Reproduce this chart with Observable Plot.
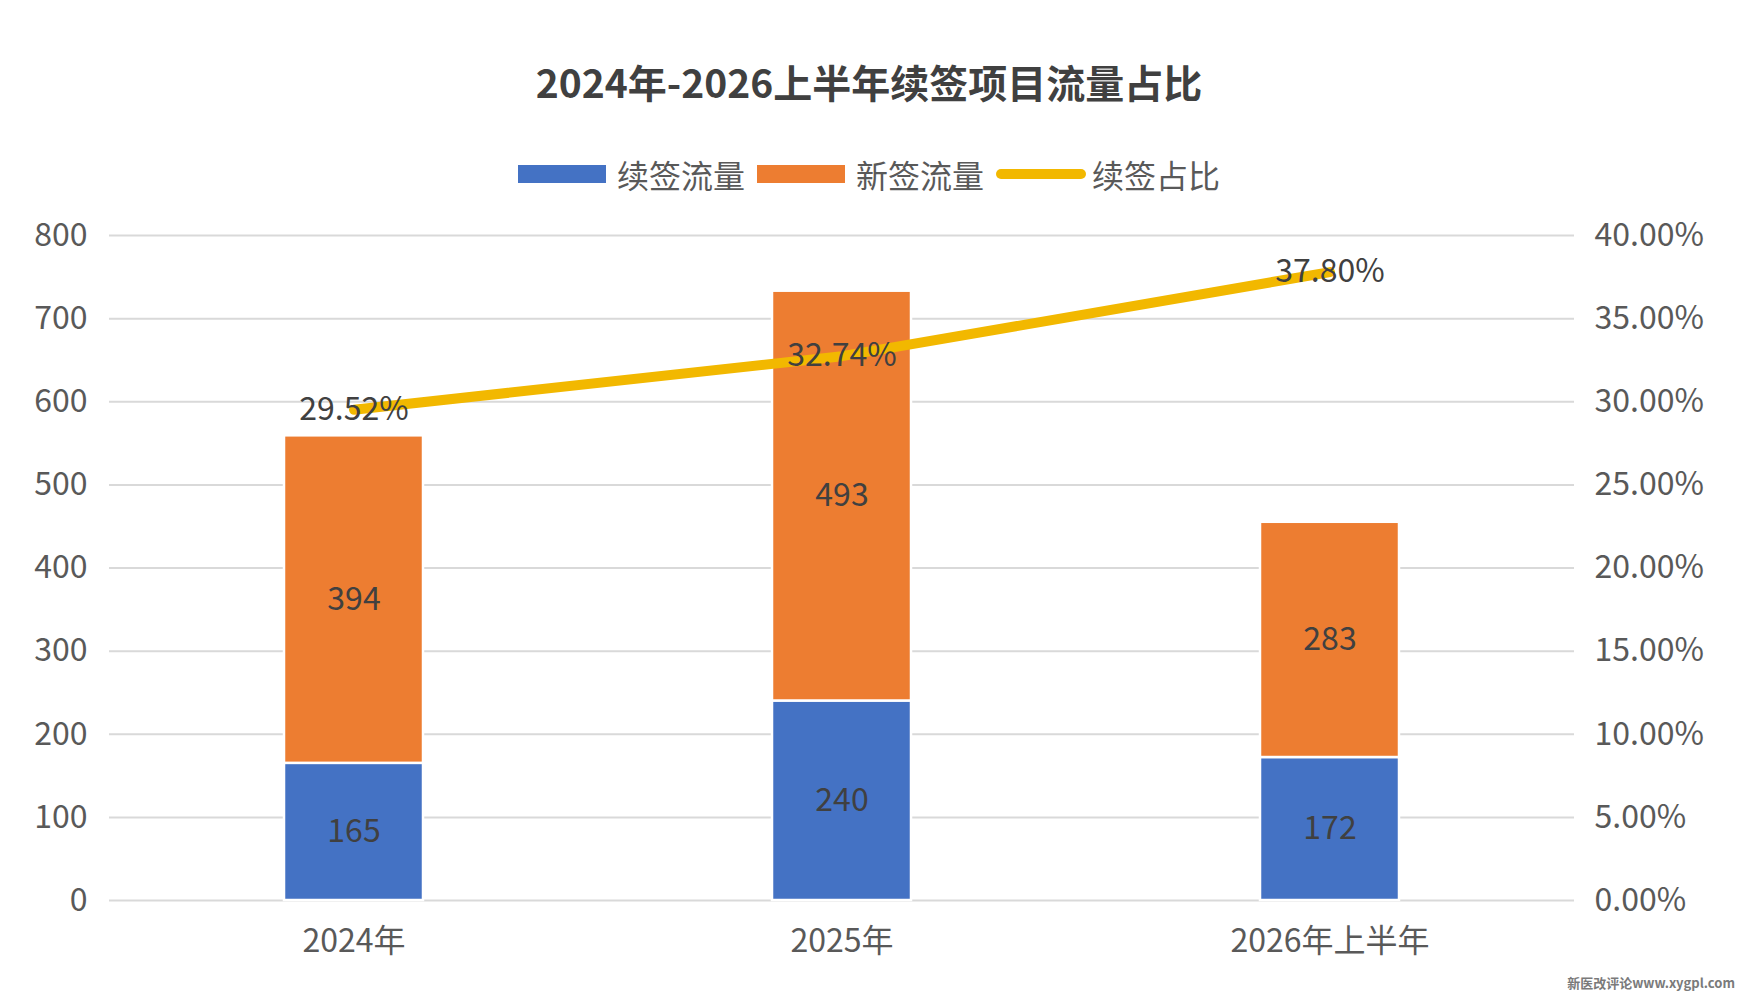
<!DOCTYPE html>
<html>
<head>
<meta charset="utf-8">
<script src="https://cdn.jsdelivr.net/npm/d3@7"></script>
<script src="https://cdn.jsdelivr.net/npm/@observablehq/plot@0.6"></script>
<style>
  body { margin: 0; background: #fff; font-family: "Noto Sans CJK SC", "Microsoft YaHei", sans-serif; }
  #wrap { position: relative; width: 1738px; height: 995px; overflow: hidden; }
  #title { position: absolute; top: 56px; left: 0; width: 1738px; text-align: center; font-size: 39px; font-weight: bold; color: #404040; line-height: 50px; }
  #legend { position: absolute; top: 152px; left: 0; width: 1738px; display: flex; justify-content: center; align-items: center; font-size: 32px; color: #595959; line-height: 44px; }
  .item { display: flex; align-items: center; margin: 0 6px; }
  .sw { width: 88px; height: 18px; margin-right: 11px; }
  .ln { width: 90px; height: 10px; border-radius: 5px; margin-right: 6px; }
  #chart { position: absolute; top: 200px; left: 0; }
  #wm { position: absolute; right: 3px; bottom: 3px; font-size: 13px; font-weight: bold; color: #7a7a7a; }
</style>
</head>
<body>
<div id="wrap">
  <div id="title">2024年-2026上半年续签项目流量占比</div>
  <div id="legend"></div>
  <div id="chart"></div>
  <div id="wm">新医改评论www.xygpl.com</div>
</div>
<script>
const years = ["2024年", "2025年", "2026年上半年"];
const renew = [165, 240, 172];
const newSign = [394, 493, 283];
const ratio = [29.52, 32.74, 37.80];
const leftTicks = [0, 100, 200, 300, 400, 500, 600, 700, 800];
const seriesNames = ["续签流量", "新签流量", "续签占比"];
const colors = ["#4472C4", "#ED7D31", "#F2B800"];

const scaleFactor = 800 / 40; // percent -> left axis units

const stacked = [];
years.forEach((y, i) => {
  stacked.push({year: y, series: seriesNames[0], value: renew[i]});
  stacked.push({year: y, series: seriesNames[1], value: newSign[i]});
});
const lineData = years.map((y, i) => ({year: y, pct: ratio[i], yv: ratio[i] * scaleFactor}));

// legend
const lg = document.getElementById("legend");
seriesNames.forEach((n, i) => {
  const it = document.createElement("div");
  it.className = "item";
  const sw = document.createElement("div");
  sw.className = i === 2 ? "ln" : "sw";
  sw.style.background = colors[i];
  const t = document.createElement("span");
  t.textContent = n;
  it.appendChild(sw); it.appendChild(t);
  lg.appendChild(it);
});

const plot = Plot.plot({
  width: 1738,
  height: 795,
  marginTop: 35,
  marginBottom: 95,
  marginLeft: 109,
  marginRight: 164,
  style: {fontFamily: "'Noto Sans CJK SC', sans-serif", fontSize: "32px", color: "#595959", background: "white"},
  x: {domain: years, paddingInner: 0.716, paddingOuter: 0.358, label: null},
  y: {domain: [0, 800], label: null},
  color: {domain: seriesNames.slice(0, 2), range: colors.slice(0, 2)},
  marks: [
    Plot.ruleY(leftTicks, {stroke: "#d9d9d9", strokeWidth: 2}),
    Plot.axisY(leftTicks, {anchor: "left", tickSize: 0, tickPadding: 22, label: null, fill: "#595959", fontSize: 32}),
    Plot.axisY(leftTicks, {anchor: "right", tickSize: 0, tickPadding: 20, label: null, fill: "#595959", fontSize: 32,
      tickFormat: d => (d / scaleFactor).toFixed(2) + "%"}),
    Plot.axisX({anchor: "bottom", tickSize: 0, tickPadding: 29, label: null, fill: "#595959", fontSize: 32}),
    Plot.barY(stacked, {x: "year", y: "value", fill: "series", stroke: "white", strokeWidth: 2.5, order: seriesNames.slice(0, 2)}),
    Plot.text(stacked, Plot.stackY({x: "year", y: "value", z: "series", order: seriesNames.slice(0, 2), text: d => String(d.value), fill: "#404040", fontSize: 32})),
    Plot.line(lineData, {x: "year", y: "yv", stroke: colors[2], strokeWidth: 10, strokeLinecap: "round"}),
    Plot.text(lineData, {x: "year", y: "yv", text: d => d.pct.toFixed(2) + "%", fill: "#404040", fontSize: 32})
  ]
});
document.getElementById("chart").appendChild(plot);
</script>
</body>
</html>
